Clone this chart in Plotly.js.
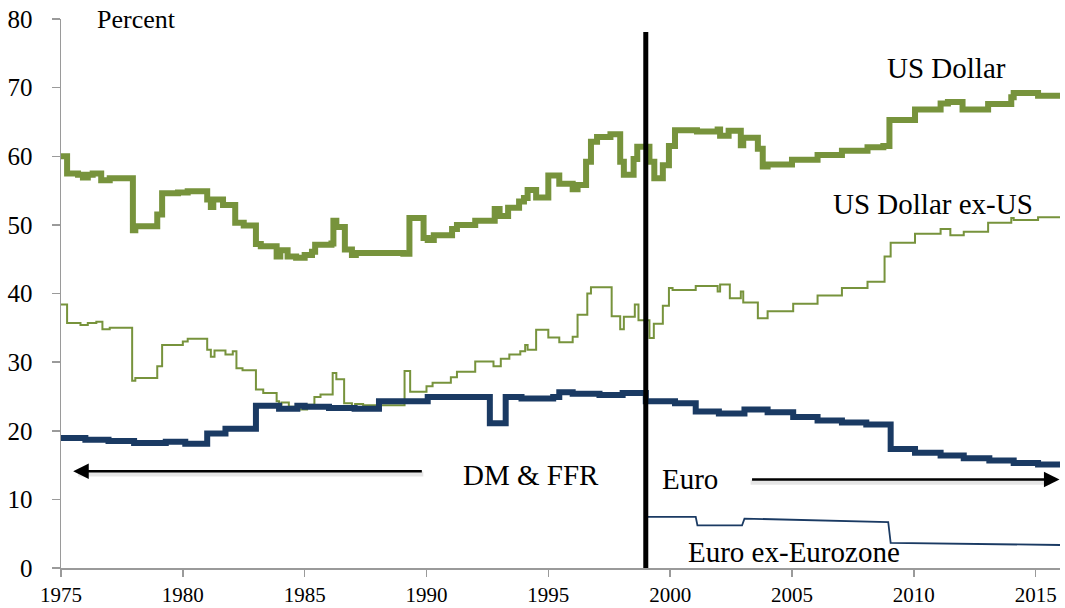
<!DOCTYPE html>
<html>
<head>
<meta charset="utf-8">
<script src="https://cdn.plot.ly/plotly-3.0.1.min.js"></script>
<style>
  html, body { margin: 0; padding: 0; background: #ffffff; }
  #chart { width: 1065px; height: 608px; }
</style>
</head>
<body>
<div id="chart"></div>
<script>
// ---------- Data ----------
const usdX = [1975.0, 1975.25, 1975.7, 1975.9, 1976.1, 1976.3, 1976.65, 1977.0, 1977.95, 1978.05,
  1978.95, 1979.15, 1979.8, 1980.2, 1981.0, 1981.15, 1981.25, 1981.65, 1982.15, 1982.5,
  1983.0, 1983.2, 1983.85, 1984.0, 1984.3, 1984.65, 1985.0, 1985.3, 1985.43, 1986.1,
  1986.18, 1986.3, 1986.65, 1986.94, 1987.1, 1989.05, 1989.3, 1989.88, 1990.05, 1990.3,
  1991.05, 1991.25, 1992.0, 1992.8, 1993.0, 1993.35, 1993.8, 1994.0, 1994.15, 1994.5,
  1995.0, 1995.45, 1996.0, 1996.2, 1996.55, 1996.75, 1997.0, 1997.55, 1997.95, 1998.1,
  1998.5, 1998.65, 1999.15, 1999.35, 1999.7, 1999.95, 2000.2, 2001.1, 2001.95, 2002.05,
  2002.4, 2002.9, 2003.0, 2003.6, 2003.8, 2004.0, 2005.0, 2006.05, 2007.05, 2008.1,
  2008.75, 2009.0, 2010.05, 2011.1, 2011.4, 2012.0, 2013.05, 2014.0, 2014.1, 2015.1, 2016.0];
const usdY = [60.0, 57.5, 57.3, 56.9, 57.3, 57.5, 56.5, 56.8, 49.2, 49.8,
  51.5, 54.6, 54.7, 54.9, 53.7, 52.6, 53.7, 52.9, 50.3, 49.9,
  47.2, 46.9, 45.4, 46.3, 45.4, 45.2, 45.6, 46.1, 47.1, 47.3,
  50.6, 49.7, 46.4, 45.6, 45.9, 45.8, 51.0, 48.1, 47.8, 48.5,
  49.4, 50.0, 50.6, 52.3, 51.3, 52.5, 53.4, 53.9, 55.1, 54.0,
  57.2, 56.0, 55.2, 55.8, 59.2, 62.1, 62.8, 63.2, 59.2, 57.3,
  59.6, 61.4, 59.2, 56.8, 58.7, 61.5, 63.8, 63.6, 63.9, 63.0,
  63.7, 61.6, 62.7, 61.1, 58.5, 58.8, 59.5, 60.2, 60.8, 61.3,
  61.5, 65.3, 66.8, 67.7, 67.9, 66.8, 67.6, 68.6, 69.2, 68.8, 69.2, 69.2];

const exusX = [1975.0, 1975.25, 1975.8, 1976.1, 1976.45, 1976.7, 1977.0, 1977.92, 1978.05, 1978.95,
  1979.15, 1980.0, 1980.2, 1981.0, 1981.15, 1981.3, 1981.75, 1982.05, 1982.2, 1982.45,
  1983.0, 1983.3, 1983.85, 1983.95, 1984.05, 1984.35, 1984.65, 1985.1, 1985.4, 1985.65,
  1986.15, 1986.3, 1986.62, 1986.94, 1987.07, 1987.4, 1989.1, 1989.33, 1990.0, 1990.25,
  1991.0, 1991.25, 1992.0, 1992.75, 1993.05, 1993.4, 1993.85, 1994.05, 1994.15, 1994.5,
  1995.0, 1995.45, 1996.0, 1996.2, 1996.6, 1996.75, 1997.6, 1997.95, 1998.1, 1998.55,
  1998.7, 1999.15, 1999.33, 1999.7, 1999.95, 2000.1, 2001.05, 2001.95, 2002.05, 2002.45,
  2002.9, 2003.0, 2003.6, 2004.0, 2005.05, 2006.05, 2007.05, 2008.1, 2008.8, 2009.05,
  2010.05, 2011.1, 2011.5, 2012.05, 2013.05, 2014.0, 2014.1, 2015.1, 2016.0];
const exusY = [38.4, 35.7, 35.4, 35.7, 35.9, 34.8, 35.0, 27.3, 27.7, 29.4,
  32.5, 33.0, 33.4, 31.8, 30.8, 31.7, 31.1, 31.6, 29.1, 28.8,
  26.0, 25.5, 24.3, 23.8, 24.1, 23.5, 23.1, 23.8, 24.9, 25.3,
  28.4, 27.5, 24.0, 23.6, 23.9, 23.7, 28.7, 25.7, 26.5, 27.0,
  27.8, 28.6, 30.1, 29.4, 30.5, 31.1, 31.6, 32.5, 31.8, 34.7,
  33.6, 32.9, 33.7, 36.9, 40.0, 40.9, 36.7, 34.8, 36.6, 38.4,
  36.1, 33.5, 35.6, 38.2, 40.8, 40.5, 41.1, 40.3, 41.3, 39.3,
  40.3, 38.7, 36.4, 37.4, 38.5, 39.7, 40.8, 41.7, 45.4, 47.4,
  48.7, 49.4, 48.5, 49.0, 50.3, 51.0, 50.7, 51.1, 51.1];

const dmEuroX = [1975.0, 1976.0, 1976.95, 1978.0, 1979.3, 1980.1, 1981.0, 1981.75, 1983.0, 1983.95,
  1984.7, 1985.0, 1986.0, 1987.05, 1988.05, 1990.05, 1992.6, 1993.25, 1993.9, 1995.2,
  1995.45, 1996.0, 1997.1, 1998.05, 1999.0, 2000.2, 2001.05, 2002.0, 2003.05, 2004.0,
  2005.05, 2006.05, 2007.05, 2008.05, 2009.05, 2010.05, 2011.1, 2012.05, 2013.1, 2014.1,
  2015.1, 2016.0];
const dmEuroY = [18.95, 18.7, 18.5, 18.2, 18.4, 18.1, 19.6, 20.3, 23.65, 23.2,
  23.65, 23.5, 23.3, 23.2, 24.3, 24.9, 21.1, 24.9, 24.7, 24.9,
  25.6, 25.4, 25.2, 25.5, 24.3, 24.0, 22.8, 22.5, 23.1, 22.7,
  22.0, 21.5, 21.2, 20.9, 17.35, 16.8, 16.4, 16.0, 15.65, 15.3,
  15.1, 15.1];

const euroExX = [1999.0, 2001.05, 2001.12, 2002.95, 2003.05, 2008.95, 2009.05, 2016.0];
const euroExY = [7.45, 7.45, 6.2, 6.2, 7.2, 6.7, 3.65, 3.35];

const xTicks = [1975, 1980, 1985, 1990, 1995, 2000, 2005, 2010, 2015];
const yTicks = [0, 10, 20, 30, 40, 50, 60, 70, 80];

const seriesLabels = ["US Dollar", "US Dollar ex-US", "DM & FFR", "Euro", "Euro ex-Eurozone"];
const unitLabel = "Percent";
const euroStartYear = 1999;

// ---------- Styles ----------
const GREEN = "#77933C";
const NAVY = "#1A3A63";
const SERIF = "Liberation Serif";

const traces = [
  { x: exusX, y: exusY, type: "scatter", mode: "lines", name: seriesLabels[1],
    line: { color: GREEN, width: 2, shape: "hv" } },
  { x: euroExX, y: euroExY, type: "scatter", mode: "lines", name: seriesLabels[4],
    line: { color: NAVY, width: 1.8 } },
  { x: dmEuroX, y: dmEuroY, type: "scatter", mode: "lines", name: seriesLabels[2] + " / " + seriesLabels[3],
    line: { color: NAVY, width: 6, shape: "hv" } },
  { x: usdX, y: usdY, type: "scatter", mode: "lines", name: seriesLabels[0],
    line: { color: GREEN, width: 6, shape: "hv" } }
];

const txt = (text, x, y, size) => ({
  text: text, x: x, y: y, xref: "x", yref: "y", showarrow: false,
  xanchor: "center", yanchor: "middle",
  font: { family: SERIF, size: size, color: "#000" }
});

const annotations = [
  txt(unitLabel, 1978.1, 80.0, 26),
  txt(seriesLabels[0], 2011.35, 72.9, 29),
  txt(seriesLabels[1], 2010.8, 53.0, 29),
  txt(seriesLabels[2], 1994.3, 13.6, 29),
  txt(seriesLabels[3], 2000.83, 12.9, 29),
  txt(seriesLabels[4], 2005.1, 2.3, 29),
  { x: 1975.5, y: 14.1, ax: 1989.87, ay: 14.1, xref: "x", yref: "y", axref: "x", ayref: "y",
    showarrow: true, arrowhead: 2, arrowsize: 1.3, arrowwidth: 2.4, arrowcolor: "#000", text: "" },
  { x: 2015.98, y: 12.9, ax: 2003.3, ay: 12.9, xref: "x", yref: "y", axref: "x", ayref: "y",
    showarrow: true, arrowhead: 2, arrowsize: 1.3, arrowwidth: 2.4, arrowcolor: "#000", text: "" }
];

const shapes = [
  { type: "line", xref: "x", yref: "y", x0: 1975.7, x1: 1989.87, y0: 13.7, y1: 13.7,
    line: { color: "rgba(0,0,0,0.10)", width: 5 }, layer: "below" },
  { type: "line", xref: "x", yref: "y", x0: 2003.3, x1: 2015.6, y0: 12.5, y1: 12.5,
    line: { color: "rgba(0,0,0,0.10)", width: 5 }, layer: "below" },
  { type: "line", xref: "x", yref: "y", x0: euroStartYear, x1: euroStartYear, y0: 0, y1: 78.1,
    line: { color: "#000", width: 5 } }
];

const layout = {
  width: 1065, height: 608,
  margin: { l: 61, r: 5, t: 19, b: 40, pad: 0 },
  paper_bgcolor: "#fff", plot_bgcolor: "#fff",
  showlegend: false,
  font: { family: SERIF, color: "#000" },
  xaxis: {
    range: [1975, 2016], tickvals: xTicks, ticktext: xTicks.map(String),
    showgrid: false, zeroline: false, showline: true, linecolor: "#9a9a9a", linewidth: 1.5,
    ticks: "outside", ticklen: 7, tickwidth: 1.5, tickcolor: "#9a9a9a",
    tickfont: { family: SERIF, size: 21, color: "#000" }
  },
  yaxis: {
    range: [0, 80], tickvals: yTicks, ticktext: yTicks.map(String),
    showgrid: false, zeroline: false, showline: true, linecolor: "#9a9a9a", linewidth: 1.5,
    ticks: "outside", ticklen: 8, tickwidth: 1.5, tickcolor: "#9a9a9a",
    ticklabelstandoff: 14,
    tickfont: { family: SERIF, size: 25, color: "#000" }
  },
  annotations: annotations,
  shapes: shapes
};

Plotly.newPlot("chart", traces, layout, { staticPlot: true, displayModeBar: false });
</script>
</body>
</html>
